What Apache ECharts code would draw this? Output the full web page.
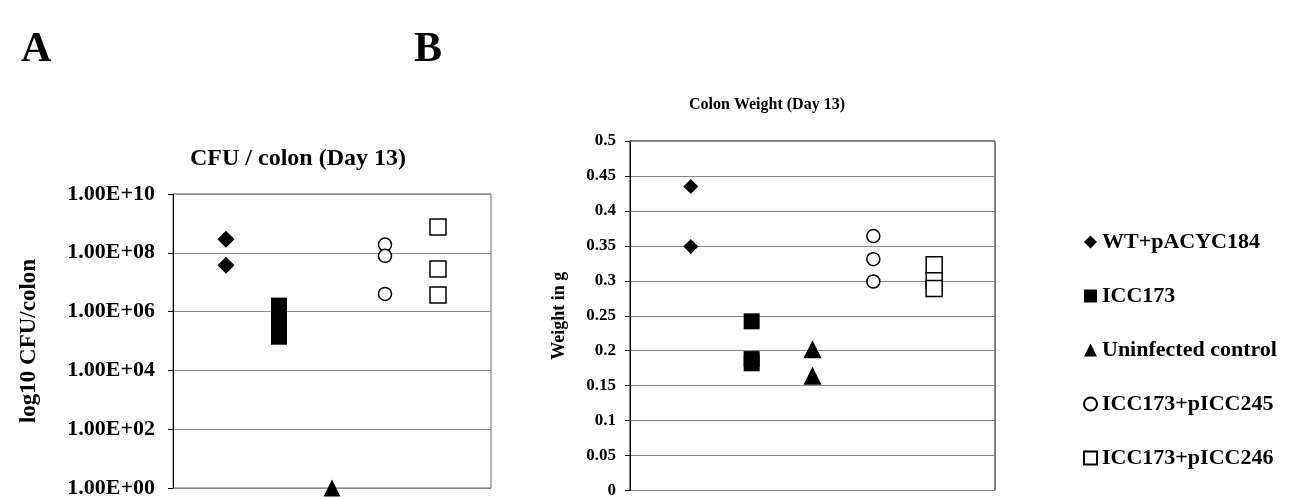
<!DOCTYPE html>
<html>
<head>
<meta charset="utf-8">
<script src="https://cdn.jsdelivr.net/npm/echarts@6/dist/echarts.min.js"></script>
<style>
html,body{margin:0;padding:0;background:#fff;}
#c{width:1307px;height:499px;}
</style>
</head>
<body>
<div id="c"></div>
<script>
// ---- data ----
const groups = ['WT+pACYC184', 'ICC173', 'Uninfected control', 'ICC173+pICC245', 'ICC173+pICC246'];
const groupPos = [1, 2, 3, 4, 5];
// Panel A: CFU per colon (Day 13)
const cfuWT = [2.9e8, 3.8e7];
const cfuICC173 = [1.6e6, 7.3e5, 3.1e5, 1.4e5];
const cfuUninfected = [1];
const cfuPICC245 = [1.9e8, 7.9e7, 4.0e6];
const cfuPICC246 = [7.6e8, 2.8e7, 3.7e6];
const cfuTicks = ['1.00E+00', '1.00E+02', '1.00E+04', '1.00E+06', '1.00E+08', '1.00E+10'];
// Panel B: colon weight (g, Day 13)
const wWT = [0.435, 0.349];
const wICC173 = [0.242, 0.188, 0.182];
const wUninfected = [0.202, 0.164];
const wPICC245 = [0.364, 0.331, 0.299];
const wPICC246 = [0.323, 0.300, 0.289];

const FONT = 'Liberation Serif';
const txt = (size) => ({fontFamily: FONT, fontWeight: 'bold', fontSize: size, color: '#000'});

const cfuSets = [cfuWT, cfuICC173, cfuUninfected, cfuPICC245, cfuPICC246];
const wSets = [wWT, wICC173, wUninfected, wPICC245, wPICC246];
const symbols = ['diamond', 'rect', 'triangle', 'circle', 'rect'];
const sizesA = [17, 16, 17, 13, 16];
const sizesB = [15, 16, 18, 13, 16];
const filled = [true, true, true, false, false];

function styleFor(i) {
  return filled[i]
    ? {color: '#000', borderColor: '#000', borderWidth: 0, opacity: 1}
    : {color: '#fff', borderColor: '#000', borderWidth: 1.5, opacity: 1};
}

const series = [];
groups.forEach((g, i) => {
  series.push({
    name: g, type: 'scatter', xAxisIndex: 0, yAxisIndex: 0,
    symbol: symbols[i], symbolSize: sizesA[i], itemStyle: styleFor(i),
    clip: false,
    data: cfuSets[i].map(v => [groupPos[i], v])
  });
  series.push({
    name: g, type: 'scatter', xAxisIndex: 1, yAxisIndex: 1,
    symbol: symbols[i], symbolSize: sizesB[i], itemStyle: styleFor(i),
    clip: false,
    data: wSets[i].map(v => [groupPos[i], v])
  });
});

const chart = echarts.init(document.getElementById('c'), null, {renderer: 'canvas'});
chart.setOption({
  animation: false,
  backgroundColor: '#fff',
  title: [
    {text: 'A', left: 16, top: 24, textStyle: txt(42)},
    {text: 'B', left: 409, top: 24, textStyle: txt(42)},
    {text: 'CFU / colon (Day 13)', left: 293, top: 142, textAlign: 'center', textStyle: txt(24)},
    {text: 'Colon Weight (Day 13)', left: 762, top: 92, textAlign: 'center', textStyle: txt(16)}
  ],
  legend: {
    orient: 'vertical', left: 1078, top: 226, itemGap: 32,
    itemWidth: 13, itemHeight: 13,
    textStyle: txt(22),
    data: groups
  },
  grid: [
    {left: 173, right: 816, top: 194, bottom: 10, show: true, borderColor: '#666', borderWidth: 1},
    {left: 630, right: 312, top: 141, bottom: 7, show: true, borderColor: '#000', borderWidth: 1}
  ],
  xAxis: [
    {type: 'value', gridIndex: 0, min: 0, max: 6, show: false},
    {type: 'value', gridIndex: 1, min: 0, max: 6, show: false}
  ],
  yAxis: [
    {
      type: 'log', logBase: 10, gridIndex: 0, min: 1, max: 1e10, interval: 2,
      name: 'log10 CFU/colon', nameLocation: 'middle', nameGap: 132, nameRotate: 90,
      nameTextStyle: txt(23),
      axisLine: {show: true, lineStyle: {color: '#000'}},
      axisTick: {show: true, length: 5, lineStyle: {color: '#000'}},
      axisLabel: {
        margin: 18, ...txt(22),
        formatter: (v) => cfuTicks[Math.round(Math.log10(v) / 2)]
      },
      splitLine: {show: true, lineStyle: {color: '#888', width: 1}},
      minorTick: {show: false}
    },
    {
      type: 'value', gridIndex: 1, min: 0, max: 0.5, interval: 0.05,
      name: 'Weight in g', nameLocation: 'middle', nameGap: 62, nameRotate: 90,
      nameTextStyle: txt(18),
      axisLine: {show: true, lineStyle: {color: '#000'}},
      axisTick: {show: true, length: 5, lineStyle: {color: '#000'}},
      axisLabel: {margin: 14, ...txt(17)},
      splitLine: {show: true, lineStyle: {color: '#888', width: 1}}
    }
  ],
  series: series
});
</script>
</body>
</html>
